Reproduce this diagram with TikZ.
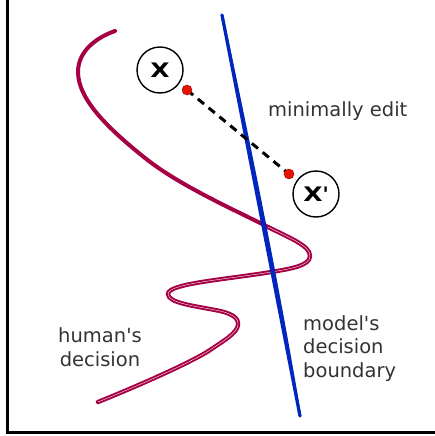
\documentclass[tikz,border=0pt]{standalone}
\usepackage{fontspec}
\setmainfont{DejaVu Sans}
\definecolor{hcurve}{RGB}{165,0,68}
\definecolor{mline}{RGB}{0,38,190}
\definecolor{txt}{RGB}{51,51,51}
\definecolor{dotred}{RGB}{228,20,0}
\begin{document}
\begin{tikzpicture}[x=1pt,y=-1pt,
  axis/.style={line width=3pt,black},
  human/.style={line width=4pt,hcurve,line cap=round},
  humandbl/.style={line width=2pt,hcurve,double=white,double distance=0.35pt,line cap=round},
  model/.style={line width=3.2pt,mline,line cap=round},
  modelthin/.style={line width=2.4pt,mline,line cap=round},
  pointc/.style={circle,draw,line width=1.4pt,minimum size=46pt,inner sep=0pt,font=\bfseries\fontsize{20}{20}\selectfont},
  reddot/.style={circle,fill=dotred,draw=red!60!black,line width=0.4pt,minimum size=10pt,inner sep=0pt},
  edit/.style={dashed,dash pattern=on 8pt off 6pt,line width=3pt,black},
  lbl/.style={text=txt,inner sep=0pt,font=\fontsize{19.5}{23.5}\selectfont}]
\useasboundingbox (0,0) rectangle (435,436);
% axes
\coordinate (ytop) at (7,0);
\coordinate (origin) at (7,432);
\coordinate (xend) at (435,432);
\draw[axis] (ytop) -- (origin) -- (xend);
% human's decision curve
\draw[human] (115,31) .. controls (95,38) and (78,52) .. (78,72)
  .. controls (78,100) and (110,130) .. (145,158)
  .. controls (180,186) and (235,210) .. (268,227);
\draw[humandbl] (268,227) .. controls (292,239) and (310,246) .. (310,256)
  .. controls (310,266) and (290,269) .. (265,273)
  .. controls (220,280) and (168,284) .. (168,294)
  .. controls (168,303) and (195,306) .. (215,310)
  .. controls (232,313) and (239,318) .. (238,325)
  .. controls (237,333) and (225,340) .. (207,352)
  .. controls (185,365) and (140,385) .. (98,402);
% model's decision boundary
\coordinate (b1) at (222,15);
\coordinate (b2) at (300,416);
\draw[model] (b1) -- (b2);
\draw[modelthin] (b1) .. controls (250.5,150) and (279,290) .. (b2);
% points
\node[pointc] (x) at (160,70) {\scalebox{1.25}[1]{X}};
\node[pointc] (xp) at (316,194) {\scalebox{1.25}[1]{X}\textquotesingle};
\coordinate (p) at (187,90);
\coordinate (q) at (289,174);
\draw[edit] (p) -- (q);
\node[reddot] (pd) at (p) {};
\node[reddot] (qd) at (q) {};
% labels
\node[lbl,anchor=base west] (edit) at (268,116) {minimally edit};
\node[lbl,align=center,anchor=base] (hum) at (100,366) {human\textquotesingle s\\decision};
\node[lbl,align=left,anchor=base west] (mod) at (303,377) {model\textquotesingle s\\decision\\boundary};
\end{tikzpicture}
\end{document}
